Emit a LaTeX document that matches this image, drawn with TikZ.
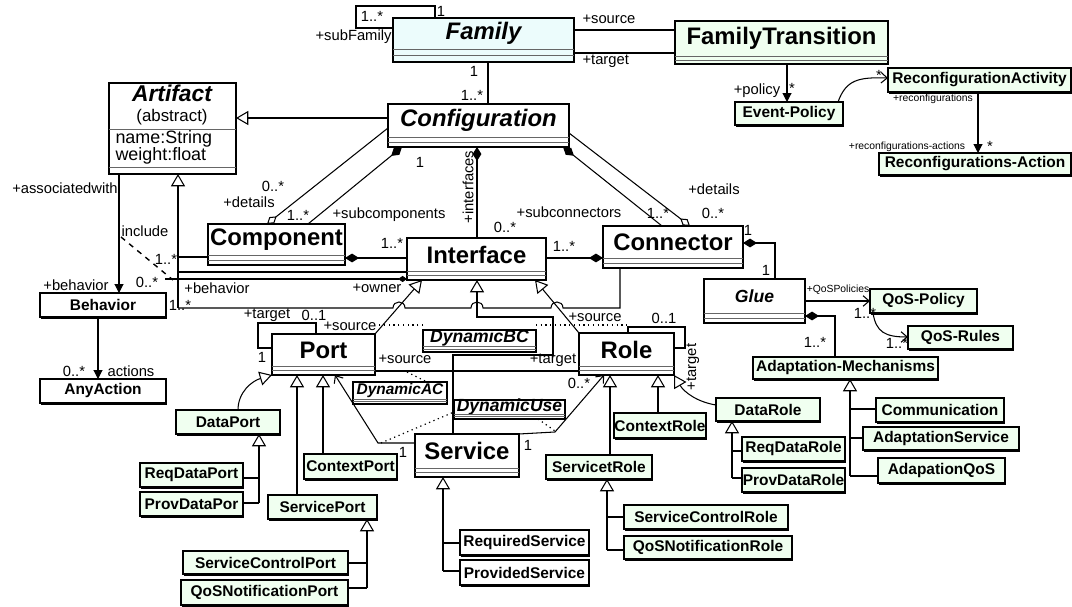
\documentclass[tikz,border=0pt]{standalone}
\usepackage{fontspec}
\setmainfont{Liberation Sans}
\usetikzlibrary{arrows.meta,fit}

\definecolor{famfill}{RGB}{236,252,252}
\definecolor{gfill}{RGB}{240,255,240}

% UML osztály: név, doboz, betű, x1, y1, x2, névrész alja, y2, szöveg
\newcommand{\umlcls}[9]{%
  \node[#2, fit={(#4,#5) (#6,#8)}] (#1) {};
  \node[#3] (#1t) at ({(#4+#6)/2},{(#5+#7)/2}) {#9};
  \draw[cmp] (#4,#7) -- (#6,#7) (#4,{(#7+#8)/2}) -- (#6,{(#7+#8)/2});
}
% kis osztály (zöld)
\newcommand{\gcls}[7][gfill]{%
  \node[box, fill=#1, fit={(#3,#4) (#5,#6)}] (#2) {};
  \node[gtxt] (#2t) at (#2.center) {#7};
  \draw[gshad] ({#3+1},{#6+1.5}) -- ({#5+1},{#6+1.5});
}

\begin{document}
\begin{tikzpicture}[x=0.02cm, y=-0.02cm, line width=0.6pt,
    box/.style={draw, line width=0.7pt, fill=white, inner sep=0pt, outer sep=0pt},
    gtxt/.style={inner sep=0pt, font=\fontsize{8.8}{10}\selectfont\bfseries},
    big/.style={inner sep=0pt, font=\fontsize{13.6}{16}\selectfont\bfseries},
    bigit/.style={inner sep=0pt, font=\fontsize{13.6}{16}\selectfont\bfseries\itshape},
    midit/.style={inner sep=0pt, font=\fontsize{10}{12}\selectfont\bfseries\itshape},
    smit/.style={inner sep=0pt, font=\fontsize{8.8}{10}\selectfont\bfseries\itshape},
    attr/.style={inner sep=0pt, font=\fontsize{10.2}{12}\selectfont},
    lbl/.style={inner sep=0pt, font=\fontsize{8.4}{10}\selectfont},
    tinylbl/.style={inner sep=0pt, font=\fontsize{5.9}{7}\selectfont},
    cmp/.style={line width=0.5pt, black!60},
    gshad/.style={line width=0.8pt},
    gen/.style={-{Triangle[open,length=7pt,width=8pt]}},
    compo/.style={{Diamond[length=8pt,width=5pt]}-},
    aggr/.style={{Diamond[open,length=7pt,width=4.5pt]}-},
    nav/.style={-{Triangle[length=5pt,width=5pt]}},
    opn/.style={-{Straight Barb[length=3.5pt,width=6pt]}},
    dotl/.style={dotted, line width=0.7pt}]
    \useasboundingbox (0,0) rectangle (1072,607);

    % Felső rész
    \umlcls{fam}{box,fill=famfill}{bigit}{393}{18}{574}{49}{62}{Family}
    \umlcls{ftr}{box,fill=gfill}{big}{675}{21}{888}{56}{64}{FamilyTransition}
    \gcls{evp}{735}{102}{843}{125}{Event-Policy}
    \gcls{rca}{888}{68}{1071}{92}{ReconfigurationActivity}
    \gcls{rcact}{879}{153}{1071}{175}{Reconfigurations-Action}

    % Artifact
    \node[box, fit={(109,83) (236,174)}] (art) {};
    \draw[cmp] (109,129) -- (236,129) (109,167) -- (236,167);
    \node[bigit, font=\fontsize{13}{15}\selectfont\bfseries\itshape] (artt) at (172,93) {Artifact};
    \node[attr, font=\fontsize{9.6}{11}\selectfont] (arta) at (172,117) {(abstract)};
    \node[attr, anchor=west] (artn) at (115,139) {name:String};
    \node[attr, anchor=west] (artw) at (115,156) {weight:float};

    % Fő osztályok
    \umlcls{conf}{box}{bigit}{388}{104}{569}{137}{147}{Configuration}
    \umlcls{compn}{box}{big}{208}{224}{345}{255}{265}{Component}
    \umlcls{iface}{box}{big}{407}{238}{546}{271}{280}{Interface}
    \umlcls{conn}{box}{big}{603}{226}{743}{258}{268}{Connector}
    \umlcls{glue}{box}{midit}{704}{279}{805}{313}{323}{Glue}
    \umlcls{port}{box}{big}{272}{334}{375}{366}{375}{Port}
    \umlcls{role}{box}{big}{579}{333}{674}{366}{375}{Role}
    \umlcls{serv}{box}{big}{415}{434}{519}{468}{477}{Service}
    \umlcls{dbc}{box}{midit}{423}{330}{536}{346}{352}{DynamicBC}
    \umlcls{dac}{box}{smit}{353}{382}{447}{399}{404}{DynamicAC}
    \umlcls{duse}{box}{midit}{454}{400}{565}{414}{419}{DynamicUse}

    % Kis osztályok
    \gcls[white]{beh}{40}{293}{166}{317}{Behavior}
    \gcls[white]{anyact}{40}{379}{166}{403}{AnyAction}
    \gcls{qpol}{870}{289}{977}{313}{QoS-Policy}
    \gcls{qrul}{908}{326}{1013}{349}{QoS-Rules}
    \gcls{adm}{753}{357}{938}{379}{Adaptation-Mechanisms}
    \gcls{comm}{876}{398}{1004}{422}{Communication}
    \gcls{adsv}{863}{427}{1019}{450}{AdaptationService}
    \gcls{adqos}{878}{458}{1005}{483}{AdapationQoS}
    \gcls{dport}{176}{410}{280}{434}{DataPort}
    \gcls{rdport}{140}{463}{243}{487}{ReqDataPort}
    \gcls{pdport}{140}{492}{243}{516}{ProvDataPor}
    \gcls{sport}{268}{495}{377}{519}{ServicePort}
    \gcls{cport}{304}{454}{397}{479}{ContextPort}
    \gcls{scport}{183}{551}{348}{574}{ServiceControlPort}
    \gcls{qnport}{181}{580}{348}{605}{QoSNotificationPort}
    \gcls{crole}{614}{413}{706}{438}{ContextRole}
    \gcls{srole}{546}{455}{652}{479}{ServicetRole}
    \gcls{drole}{716}{398}{820}{421}{DataRole}
    \gcls{rdrole}{742}{437}{845}{461}{ReqDataRole}
    \gcls{pdrole}{742}{468}{845}{492}{ProvDataRole}
    \gcls{scrole}{624}{505}{788}{529}{ServiceControlRole}
    \gcls{qnrole}{624}{536}{792}{559}{QoSNotificationRole}
    \gcls[white]{rserv}{460}{530}{589}{555}{RequiredService}
    \gcls[white]{pserv}{460}{560}{589}{585}{ProvidedService}

    % Family kapcsolatai
    \draw (fam.north -| 435,0) -- (435,6) -- (356,6) -- (356,28) -- (fam.west |- 0,28);
    \draw (fam.east |- 0,30) -- (ftr.west |- 0,30);
    \draw (fam.east |- 0,53) -- (ftr.west |- 0,53);
    \draw (fam.south -| 488,0) -- (conf.north -| 488,0);
    \draw[nav] (ftr.south -| 787,0) -- (evp.north -| 787,0);
    \draw[opn] (evp.north -| 838,0) .. controls (846,80) and (858,77) .. (rca.west |- 0,78);
    \draw[nav] (rca.south -| 978,0) -- (rcact.north -| 978,0);

    % Configuration kapcsolatai
    \draw[gen] (conf.west |- 0,118) -- (art.east |- 0,118);
    \draw[aggr] (compn.north -| 267,0) -- (conf.west |- 0,128);
    \draw[compo] (conf.south -| 402,0) -- (compn.north -| 308,0);
    \draw[compo] (conf.south -| 477,0) -- (iface.north -| 477,0);
    \draw[compo] (conf.south -| 563,0) -- (conn.north -| 662,0);
    \draw[aggr] (conn.north -| 690,0) -- (conf.east |- 0,133);
    \draw[compo] (compn.east |- 0,258) -- (iface.west |- 0,258);
    \draw[compo] (conn.west |- 0,258) -- (iface.east |- 0,258);
    \draw[compo] (conn.east |- 0,243) -| (glue.north -| 775,0);
    \draw[opn] (glue.east |- 0,301) -- (qpol.west |- 0,301);
    \draw[opn] (qpol.south -| 873,0) .. controls (876,332) and (885,337) .. (qrul.west |- 0,337);
    \draw[compo] (glue.east |- 0,316) -| (adm.north -| 835,0);

    % Artifact öröklés és Behavior
    \coordinate (artj) at (178,308);
    \coordinate (incA) at (121,237);
    \coordinate (incB) at (173,280);
    \draw[gen] (artj) -- (art.south -| artj);
    \draw (compn.west |- 0,257) -- (artj |- 0,257);
    \draw (iface.west |- 0,272) -- (artj |- 0,272);
    \draw (artj) -- (393,308) .. controls (393,300) and (405,300) .. (405,308)
        -- (471,308) .. controls (471,300) and (483,300) .. (483,308)
        -- (551,308) .. controls (551,300) and (563,300) .. (563,308)
        -- (620,308) -- (conn.south -| 620,0);
    \draw[{Diamond[length=5pt,width=3.5pt]}-] (iface.west |- 0,279) -- (165,279);
    \draw[nav] (art.south -| 119,0) -- (beh.north -| 119,0);
    \draw[nav] (beh.south -| 98,0) -- (anyact.north -| 98,0);
    \draw[dashed, line width=0.8pt] (incA) -- (incB);

    % Port és Role
    \draw (port.north -| 316,0) -- (316,323) -- (258,323) -- (258,348) -- (port.west |- 0,348);
    \draw (role.north -| 628,0) -- (628,327) -- (685,327) -- (685,348) -- (role.east |- 0,348);
    \draw[gen] (port.north east) -- (iface.south -| 422,0);
    \draw[gen] (role.north west) -- (iface.south -| 535,0);
    \draw[gen] (serv.north -| 453,0) |- (553,355) |- (477,317) -- (iface.south -| 477,0);
    \draw (port.east |- 0,371) -- (role.west |- 0,371);
    \draw[dotl] (dbc.north west |- 0,325) -- (377,325);
    \draw[dotl] (dbc.north east |- 0,325) -- (628,325);
    \draw[dotl] (407,372) -- (dac.north -| 427,0);
    \draw[opn] (serv.west |- 0,443) -- (378,443) -- (port.south -| 335,0);
    \draw[opn] (serv.north east) -- (555,432) -- (role.south -| 604,0);
    \draw[dotl] (381,443) -- (duse.west |- 0,412);
    \draw[dotl] (duse.south -| 538,0) -- (555,431);

    % Port öröklés
    \draw[gen] (dport.north -| 238,0) .. controls (238,392) and (252,381) .. (port.south west);
    \draw[gen] (sport.north -| 297,0) -- (port.south -| 297,0);
    \draw[gen] (cport.north -| 323,0) -- (port.south -| 323,0);
    \coordinate (dpj) at (259,503);
    \draw[gen] (dpj) -- (dport.south -| dpj);
    \draw (rdport.east |- 0,478) -- (dpj |- 0,478);
    \draw (pdport.east |- dpj) -- (dpj);
    \coordinate (spj) at (367,588);
    \draw[gen] (spj) -- (sport.south -| spj);
    \draw (scport.east |- 0,563) -- (spj |- 0,563);
    \draw (qnport.east |- spj) -- (spj);

    % Role öröklés
    \draw[gen] (srole.north -| 610,0) -- (role.south -| 610,0);
    \draw[gen] (crole.north -| 658,0) -- (role.south -| 658,0);
    \draw[gen] (drole.west |- 0,405) .. controls (697,402) and (684,392) .. (role.south east);
    \coordinate (drj) at (732,478);
    \draw[gen] (drj) -- (drole.south -| drj);
    \draw (rdrole.west |- 0,451) -- (drj |- 0,451);
    \draw (pdrole.west |- drj) -- (drj);
    \coordinate (srj) at (607,550);
    \draw[gen] (srj) -- (srole.south -| srj);
    \draw (scrole.west |- 0,517) -- (srj |- 0,517);
    \draw (qnrole.west |- srj) -- (srj);

    % Service és Adaptation öröklés
    \coordinate (svj) at (443,571);
    \draw[gen] (svj) -- (serv.south -| svj);
    \draw (rserv.west |- 0,543) -- (svj |- 0,543);
    \draw (pserv.west |- svj) -- (svj);
    \coordinate (admj) at (850,476);
    \draw[gen] (admj) -- (adm.south -| admj);
    \draw (comm.west |- 0,409) -- (admj |- 0,409);
    \draw (adsv.west |- 0,438) -- (admj |- 0,438);
    \draw (adqos.west |- admj) -- (admj);

    % Feliratok fent
    \node[lbl] (m1) at (372,16) {1..*};
    \node[lbl] (m2) at (441,11) {1};
    \node[lbl, anchor=east] (r1) at (392,37) {+subFamily};
    \node[lbl, anchor=west] (r2) at (582,19) {+source};
    \node[lbl, anchor=west] (r3) at (582,61) {+target};
    \node[lbl] (m3) at (474,71) {1};
    \node[lbl] (m4) at (472,95) {1..*};
    \node[lbl] (r4) at (757,91) {+policy};
    \node[lbl] (m5) at (792,88) {*};
    \node[lbl] (m6) at (879,75) {*};
    \node[tinylbl] (r5) at (933,99) {+reconfigurations};
    \node[tinylbl] (r6) at (907,147) {+reconfigurations-actions};
    \node[lbl] (m7) at (990,146) {*};

    % Feliratok középen
    \node[lbl] (m8) at (273,186) {0..*};
    \node[lbl] (r7) at (249,202) {+details};
    \node[lbl] (m9) at (298,215) {1..*};
    \node[lbl] (r8) at (389,215) {+subcomponents};
    \node[lbl] (m10) at (420,162) {1};
    \node[lbl, rotate=90] (r9) at (468,187) {+interfaces};
    \node[lbl] (m11) at (505,227) {0..*};
    \node[lbl] (r10) at (569,212) {+subconnectors};
    \node[lbl] (m12) at (658,213) {1..*};
    \node[lbl] (m13) at (713,213) {0..*};
    \node[lbl] (r11) at (714,189) {+details};
    \node[lbl] (m14) at (392,243) {1..*};
    \node[lbl] (m15) at (564,246) {1..*};
    \node[lbl] (m16) at (748,230) {1};
    \node[lbl] (m17) at (766,270) {1};
    \node[tinylbl] (r12) at (838,290) {+QoSPolicies};
    \node[lbl] (m18) at (865,313) {1..*};
    \node[lbl] (m19) at (897,343) {1..*};
    \node[lbl] (m20) at (815,342) {1..*};

    % Feliratok bal oldalt
    \node[lbl] (r13) at (65,188) {+associatedwith};
    \node[lbl] (r14) at (145,231) {include};
    \node[lbl] (m21) at (166,259) {1..*};
    \node[lbl] (r15) at (76,285) {+behavior};
    \node[lbl] (m22) at (147,282) {0..*};
    \node[lbl] (r16) at (217,288) {+behavior};
    \node[lbl] (m23) at (180,305) {1..*};
    \node[lbl] (m24) at (74,371) {0..*};
    \node[lbl] (r17) at (131,371) {actions};
    \node[lbl] (r18) at (377,288) {+owner};

    % Feliratok Port és Role körül
    \node[lbl] (r19) at (267,315) {+target};
    \node[lbl] (m25) at (314,315) {0..1};
    \node[lbl] (m26) at (262,357) {1};
    \node[lbl] (r20) at (350,326) {+source};
    \node[lbl] (r21) at (405,359) {+source};
    \node[lbl] (r22) at (553,360) {+target};
    \node[lbl] (m27) at (403,452) {1};
    \node[lbl] (m28) at (528,445) {1};
    \node[lbl] (m29) at (579,383) {0..*};
    \node[lbl] (r23) at (595,317) {+source};
    \node[lbl] (m30) at (664,318) {0..1};
    \node[lbl, rotate=90] (r24) at (693,367) {+target};
\end{tikzpicture}
\end{document}
